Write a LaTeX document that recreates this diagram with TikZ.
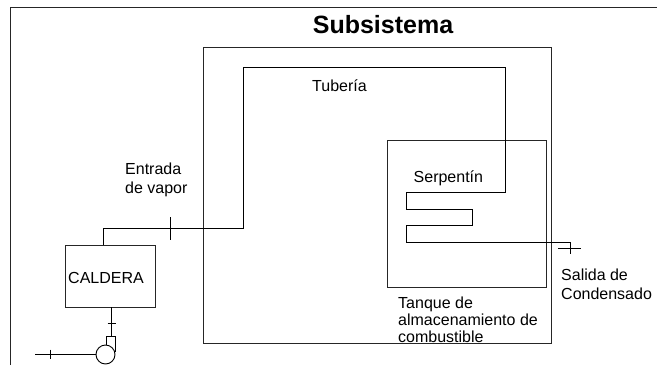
\documentclass[tikz,border=0pt]{standalone}
\usepackage{fontspec}
\setmainfont{Liberation Sans}
\tikzset{
  x=1pt,y=-1pt,
  pipe/.style={draw=black,line width=0.9pt},
  boxline/.style={draw=black!85,line width=1pt},
  lbl/.style={inner sep=0pt,align=left,anchor=west,font=\fontsize{16}{19}\selectfont},
}
\begin{document}
\begin{tikzpicture}
\useasboundingbox (0,0) rectangle (657,365);
% coordinates
\coordinate (fbl) at (10.5,365); \coordinate (ftl) at (10.5,7.5); \coordinate (ftr) at (657,7.5);
\coordinate (a1) at (103,245); \coordinate (a2) at (103,228.5); \coordinate (a3) at (243,228.5);
\coordinate (a4) at (243,67); \coordinate (a5) at (505.5,67); \coordinate (a6) at (505.5,192.5);
\coordinate (a7) at (406,192.5); \coordinate (a8) at (406,209); \coordinate (a9) at (472.5,209);
\coordinate (a10) at (472.5,225.5); \coordinate (a11) at (406,225.5); \coordinate (a12) at (406,242);
\coordinate (a13) at (570,242); \coordinate (a14) at (570,254);
\coordinate (t1) at (558,248); \coordinate (t2) at (581,248);
\coordinate (t3) at (170,217); \coordinate (t4) at (170,240);
\coordinate (b1) at (111.5,307); \coordinate (b2) at (111.5,336); \coordinate (b3) at (106,336);
\coordinate (b4) at (106,345); \coordinate (b5) at (115,336); \coordinate (b6) at (115,352);
\coordinate (t5) at (107.5,323); \coordinate (t6) at (115.5,323);
\coordinate (c1) at (35,354.5); \coordinate (t7) at (50.7,349.5); \coordinate (t8) at (50.7,358.5);
% boxes
\draw[boxline] (fbl) -- (ftl) -- (ftr);
\node[boxline,minimum width=348pt,minimum height=296pt,inner sep=0pt] (sub) at (377.5,195) {};
\node[boxline,minimum width=159pt,minimum height=147pt,inner sep=0pt] (tank) at (466.5,213.5) {};
\node[boxline,minimum width=90pt,minimum height=62pt,inner sep=0pt] (caldera) at (110,276) {};
\node[pipe,circle,minimum size=19pt,inner sep=0pt] (pump) at (105.5,354.5) {};
% pipes
\draw[pipe] (a1) -- (a2) -- (a3) -- (a4) -- (a5) -- (a6) -- (a7) -- (a8) -- (a9) -- (a10) -- (a11) -- (a12) -- (a13) -- (a14);
\draw[pipe] (t1) -- (t2);
\draw[pipe,line width=0.7pt] (t3) -- (t4);
\draw[pipe] (b1) -- (b2);
\draw[pipe] (b4) -- (b3) -- (b5) -- (b6);
\draw[pipe,line width=0.7pt] (t5) -- (t6);
\draw[pipe] (c1) -- (pump.west);
\draw[pipe,line width=0.7pt] (t7) -- (t8);
% labels
\node[inner sep=0pt,font=\bfseries\fontsize{25}{30}\selectfont] (title) at (383,25) {Subsistema};
\node[lbl] (tub) at (312,86) {Tubería};
\node[lbl] (ser) at (413.5,178) {Serpentín};
\node[lbl] (ent) at (125,179.5) {Entrada\\de vapor};
\node[lbl] (cal) at (68,278) {CALDERA};
\node[lbl] (sal) at (561,284.5) {Salida de\\Condensado};
\node[lbl,font=\fontsize{16}{17.2}\selectfont] (tan) at (398,319.5) {Tanque de\\almacenamiento de\\combustible};
\end{tikzpicture}
\end{document}
